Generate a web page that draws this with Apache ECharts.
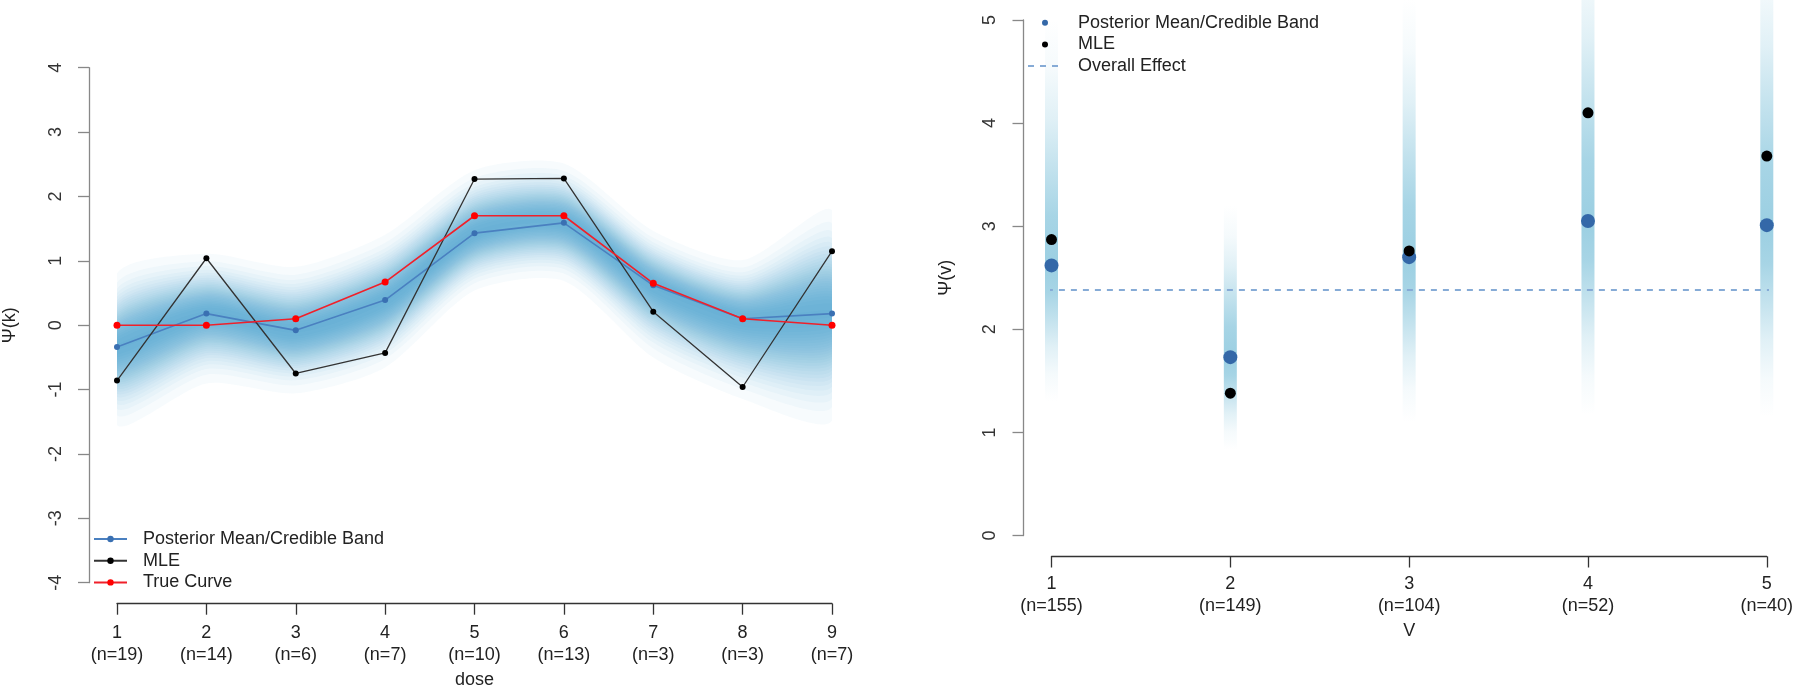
<!DOCTYPE html>
<html><head><meta charset="utf-8">
<script src="https://cdn.jsdelivr.net/npm/echarts@6/dist/echarts.min.js"></script>
<style>html,body{margin:0;padding:0;background:#fff}#c{width:1800px;height:698px}</style>
</head><body><div id="c"></div>
<script>
// ---------- Left panel data (dose) ----------
const doseCats = [1, 2, 3, 4, 5, 6, 7, 8, 9];
const doseN = [19, 14, 6, 7, 10, 13, 3, 3, 7];
const postMean = [-0.34, 0.18, -0.08, 0.39, 1.43, 1.59, 0.62, 0.10, 0.18];
const bandUpper = [0.85, 1.15, 0.95, 1.45, 2.45, 2.55, 1.50, 1.05, 1.85];
const bandLower = [-1.60, -0.95, -1.10, -0.70, 0.50, 0.65, -0.55, -1.20, -1.55];
const mleDose = [-0.86, 1.04, -0.75, -0.43, 2.27, 2.28, 0.21, -0.96, 1.15];
const trueCurve = [0.00, 0.00, 0.10, 0.67, 1.70, 1.70, 0.65, 0.10, 0.00];

// ---------- Right panel data (V) ----------
const vCats = [1, 2, 3, 4, 5];
const vN = [155, 149, 104, 52, 40];
const vMean = [2.62, 1.73, 2.70, 3.05, 3.01];
const vMle = [2.87, 1.38, 2.76, 4.10, 3.68];
const vUpper = [5.0, 3.2, 5.2, 6.0, 5.9];
const vLower = [1.30, 0.83, 1.10, 1.17, 1.15];
const overallEffect = 2.38;

const FONT = '"Liberation Sans", Arial, Helvetica, sans-serif';
const pair = (xs, ys) => xs.map((x, i) => [x, ys[i]]);

// layered band (Gaussian-like shading): each layer adds alpha LA
const LA = 0.035, IMAX = 0.62, SIG = 0.40;
const NL = Math.floor(Math.log(1 - IMAX) / Math.log(1 - LA));
const layerF = [];
for (let k = 1; k <= NL; k++) {
  const Ik = 1 - Math.pow(1 - LA, k);
  layerF.push(SIG * Math.sqrt(2 * Math.log(IMAX / Ik)));
}

function renderBand(params, api) {
  const x0 = api.coord([doseCats[0], 0])[0];
  const x1 = api.coord([doseCats[doseCats.length - 1], 0])[0];
  const children = layerF.filter(f => f > 0.01).map(f => {
    const top = doseCats.map((x, i) => api.coord([x, postMean[i] + f * (bandUpper[i] - postMean[i])]));
    const bot = doseCats.map((x, i) => api.coord([x, postMean[i] - f * (postMean[i] - bandLower[i])])).reverse();
    return { type: 'polygon', silent: true,
      shape: { points: top.concat(bot), smooth: 0.25, smoothConstraint: [[x0, -1e5], [x1, 1e5]] },
      style: { fill: 'rgba(40,148,190,' + LA + ')' } };
  });
  return { type: 'group', children };
}

function alphaOf(d) { const e = Math.exp(-3); return Math.max(0, (Math.exp(-3 * d * d) - e) / (1 - e)); }

function renderStrip(params, api) {
  const i = params.dataIndex;
  const x = api.coord([vCats[i], vMean[i]])[0];
  const yTop = api.coord([vCats[i], vUpper[i]])[1];
  const yBot = api.coord([vCats[i], vLower[i]])[1];
  const yMid = api.coord([vCats[i], vMean[i]])[1];
  const tm = (yMid - yTop) / (yBot - yTop);
  const ds = [1, 0.8, 0.6, 0.4, 0.2, 0];
  const stops = [];
  ds.forEach(d => stops.push({ offset: tm * (1 - d), color: 'rgba(155,207,226,' + alphaOf(d).toFixed(3) + ')' }));
  ds.slice().reverse().slice(1).forEach(d => stops.push({ offset: tm + (1 - tm) * d, color: 'rgba(155,207,226,' + alphaOf(d).toFixed(3) + ')' }));
  const w = 13;
  return { type: 'rect', silent: true,
    shape: { x: x - w / 2, y: yTop, width: w, height: yBot - yTop },
    style: { fill: new echarts.graphic.LinearGradient(0, 0, 0, 1, stops) } };
}

const axisTxt = { fontFamily: FONT, fontSize: 18, color: '#222' };

const chart = echarts.init(document.getElementById('c'), null, { renderer: 'canvas' });
const xPad = 0.16;
chart.setOption({
  animation: false,
  backgroundColor: '#fff',
  grid: [
    { left: 117, right: 968, top: 67.7, bottom: 115.3 },
    { left: 1051.5, right: 33.2, top: 20, bottom: 162.5 }
  ],
  xAxis: [
    { gridIndex: 0, type: 'value', min: 1, max: 9, interval: 1, position: 'bottom', offset: 21,
      axisLine: { show: true, onZero: false, lineStyle: { color: '#333', width: 1.3 } },
      axisTick: { show: true, length: 11, lineStyle: { color: '#333', width: 1.3 } },
      axisLabel: Object.assign({ margin: 18, lineHeight: 22, showMinLabel: true, showMaxLabel: true, hideOverlap: false,
        formatter: v => v + '\n(n=' + doseN[doseCats.indexOf(v)] + ')' }, axisTxt),
      splitLine: { show: false },
      name: 'dose', nameLocation: 'middle', nameGap: 67, nameTextStyle: axisTxt },
    { gridIndex: 1, type: 'value', min: 1, max: 5, interval: 1, position: 'bottom', offset: 21,
      axisLine: { show: true, onZero: false, lineStyle: { color: '#333', width: 1.3 } },
      axisTick: { show: true, length: 11, lineStyle: { color: '#333', width: 1.3 } },
      axisLabel: Object.assign({ margin: 17, lineHeight: 22, showMinLabel: true, showMaxLabel: true, hideOverlap: false,
        formatter: v => v + '\n(n=' + vN[vCats.indexOf(v)] + ')' }, axisTxt),
      splitLine: { show: false },
      name: 'V', nameLocation: 'middle', nameGap: 66, nameTextStyle: axisTxt }
  ],
  yAxis: [
    { gridIndex: 0, type: 'value', min: -4, max: 4, interval: 1, position: 'left', offset: 28,
      axisLine: { show: true, onZero: false, lineStyle: { color: '#888', width: 1.3 } },
      axisTick: { show: true, length: 11, lineStyle: { color: '#888', width: 1.3 } },
      axisLabel: Object.assign({}, axisTxt, { rotate: 90, margin: 24, color: '#333', showMinLabel: true, showMaxLabel: true }),
      splitLine: { show: false },
      name: 'Ψ(k)', nameLocation: 'middle', nameRotate: 90, nameGap: 70, nameTextStyle: axisTxt },
    { gridIndex: 1, type: 'value', min: 0, max: 5, interval: 1, position: 'left', offset: 28,
      axisLine: { show: true, onZero: false, lineStyle: { color: '#888', width: 1.3 } },
      axisTick: { show: true, length: 11, lineStyle: { color: '#888', width: 1.3 } },
      axisLabel: Object.assign({}, axisTxt, { rotate: 90, margin: 24, color: '#333', showMinLabel: true, showMaxLabel: true }),
      splitLine: { show: false },
      name: 'Ψ(v)', nameLocation: 'middle', nameRotate: 90, nameGap: 68, nameTextStyle: axisTxt }
  ],
  legend: [
    { left: 93, top: 530, orient: 'vertical', padding: 0, itemWidth: 33, itemHeight: 8, itemGap: 3.7,
      selectedMode: false,
      data: ['Posterior Mean/Credible Band', 'MLE', 'True Curve'],
      textStyle: { fontFamily: FONT, fontSize: 18, lineHeight: 18, color: '#222', padding: [0, 0, 0, 11] } },
    { left: 1027, top: 13.7, orient: 'vertical', padding: 0, itemWidth: 34, itemHeight: 6, itemGap: 3.7,
      selectedMode: false,
      data: [
        { name: 'Posterior Mean/Credible Band', icon: 'circle', itemStyle: { color: '#3468a8', borderWidth: 0 } },
        { name: 'MLE', icon: 'circle', itemStyle: { color: '#000', borderWidth: 0 } },
        { name: 'Overall Effect', itemStyle: { color: 'rgba(0,0,0,0)', borderWidth: 0, opacity: 0 } }
      ],
      textStyle: { fontFamily: FONT, fontSize: 18, lineHeight: 18, color: '#222', padding: [0, 0, 0, 11] } }
  ],
  series: [
    { type: 'custom', xAxisIndex: 0, yAxisIndex: 0, z: 1, data: [[doseCats[0], postMean[0]]],
      renderItem: renderBand, clip: false, silent: true },
    { type: 'line', name: 'Posterior Mean/Credible Band', xAxisIndex: 0, yAxisIndex: 0, z: 3,
      data: pair(doseCats, postMean), symbol: 'circle', symbolSize: 6, showSymbol: true,
      lineStyle: { color: '#4a80c0', width: 1.6 }, itemStyle: { color: '#3a70b2', borderWidth: 0 } },
    { type: 'line', name: 'MLE', xAxisIndex: 0, yAxisIndex: 0, z: 4,
      data: pair(doseCats, mleDose), symbol: 'circle', symbolSize: 6, showSymbol: true,
      lineStyle: { color: '#333', width: 1.3 }, itemStyle: { color: '#000', borderWidth: 0 } },
    { type: 'line', name: 'True Curve', xAxisIndex: 0, yAxisIndex: 0, z: 5,
      data: pair(doseCats, trueCurve), symbol: 'circle', symbolSize: 7, showSymbol: true,
      lineStyle: { color: '#f0202a', width: 1.6 }, itemStyle: { color: '#ff0000', borderWidth: 0 } },

    { type: 'custom', xAxisIndex: 1, yAxisIndex: 1, z: 1, data: pair(vCats, vMean),
      renderItem: renderStrip, clip: false, silent: true },
    { type: 'line', name: 'Overall Effect', xAxisIndex: 1, yAxisIndex: 1, z: 2, clip: false,
      data: [[vCats[0] - xPad, overallEffect], [vCats[vCats.length - 1] + xPad, overallEffect]],
      symbol: 'none', lineStyle: { color: '#86abd6', width: 2, type: [6, 6] } },
    { type: 'scatter', name: 'Posterior Mean/Credible Band', xAxisIndex: 1, yAxisIndex: 1, z: 3,
      data: pair(vCats, vMean), symbol: 'circle', symbolSize: 14, itemStyle: { color: '#3468a8', opacity: 1 } },
    { type: 'scatter', name: 'MLE', xAxisIndex: 1, yAxisIndex: 1, z: 4,
      data: pair(vCats, vMle), symbol: 'circle', symbolSize: 11, itemStyle: { color: '#000', opacity: 1 } }
  ]
});
</script>
</body></html>
